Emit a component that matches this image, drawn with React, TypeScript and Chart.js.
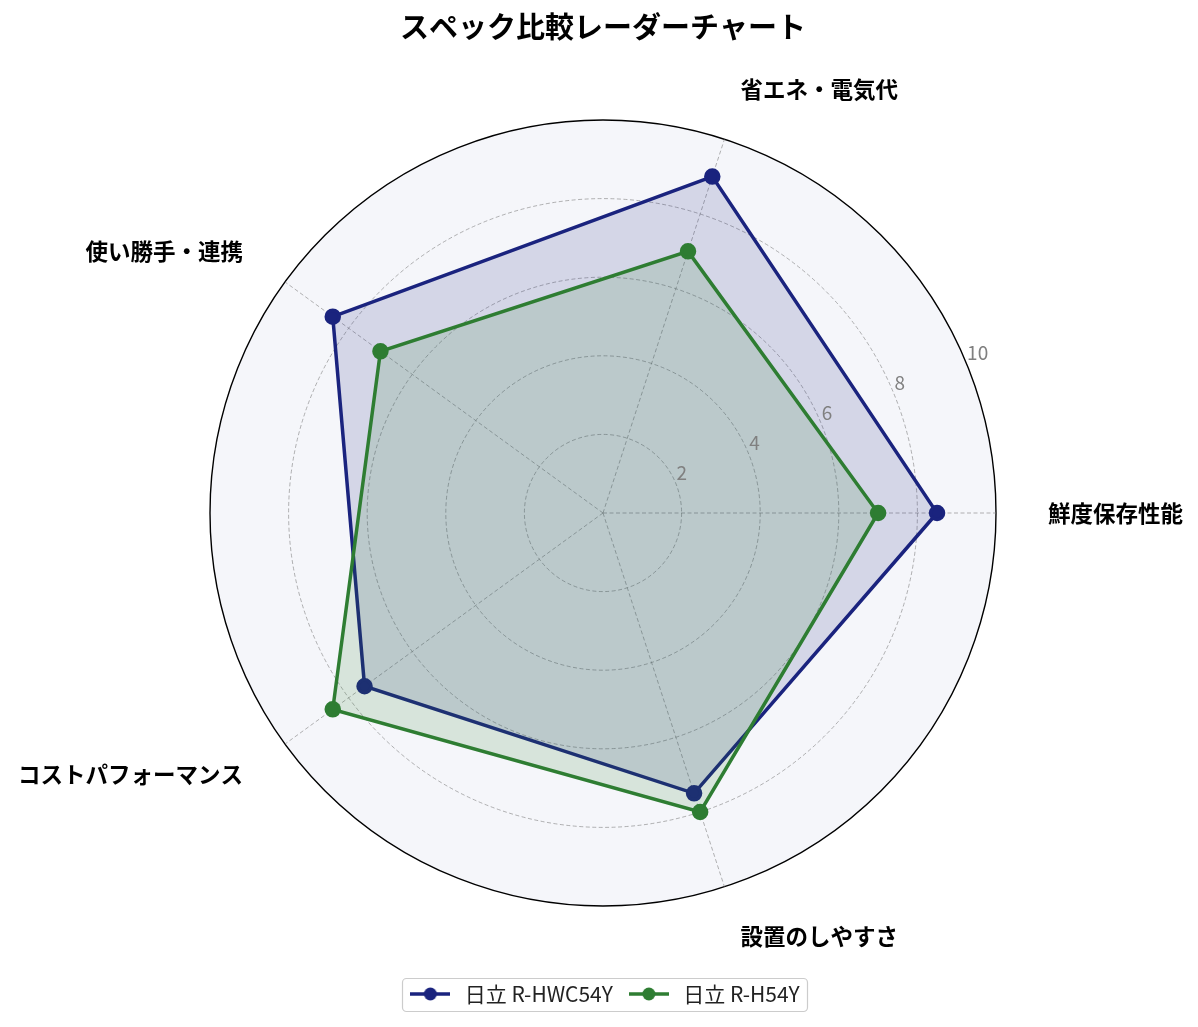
import { useEffect, useRef } from "react";
import { Chart, registerables } from "chart.js";

Chart.register(...registerables);

// Categories in clockwise drawing order, starting at the right (3 o'clock)
const categories = ["鮮度保存性能", "設置のしやすさ", "コストパフォーマンス", "使い勝手・連携", "省エネ・電気代"];
const seriesNames = ["日立 R-HWC54Y", "日立 R-H54Y"];
const hwc54yValues = [8.5, 7.5, 7.5, 8.5, 9.0];
const h54yValues = [7.0, 8.0, 8.5, 7.0, 7.0];
const tickValues = [2, 4, 6, 8, 10];
const chartTitle = "スペック比較レーダーチャート";

const NAVY = "#1a237e";
const GREEN = "#2e7d32";
const FONT = "'Noto Sans CJK JP', 'Noto Sans', sans-serif";

function makeLegendIcon(color: string) {
  const c = document.createElement("canvas");
  c.width = 40;
  c.height = 16;
  const ctx = c.getContext("2d")!;
  ctx.strokeStyle = color;
  ctx.lineWidth = 3.5;
  ctx.beginPath();
  ctx.moveTo(0, 8);
  ctx.lineTo(40, 8);
  ctx.stroke();
  ctx.fillStyle = color;
  ctx.beginPath();
  ctx.arc(20, 8, 6.5, 0, Math.PI * 2);
  ctx.fill();
  return c;
}

const radarDecor = {
  id: "radarDecor",
  beforeDraw(chart: any) {
    const s = chart.scales.r;
    const ctx = chart.ctx;
    ctx.save();
    ctx.fillStyle = "#f5f6fa";
    ctx.beginPath();
    ctx.arc(s.xCenter, s.yCenter, s.drawingArea, 0, Math.PI * 2);
    ctx.fill();
    ctx.restore();
  },
  afterDraw(chart: any) {
    const s = chart.scales.r;
    const ctx = chart.ctx;
    ctx.save();
    // radial tick labels at 22.5°
    ctx.font = `19px ${FONT}`;
    ctx.fillStyle = "#808080";
    ctx.textAlign = "left";
    ctx.textBaseline = "alphabetic";
    const a = (22.5 * Math.PI) / 180;
    tickValues.forEach((v) => {
      const d = s.getDistanceFromCenterForValue(v);
      ctx.fillText(String(v), s.xCenter + d * Math.cos(a) + 1, s.yCenter - d * Math.sin(a) - 3);
    });
    // point labels
    ctx.font = `bold 22.5px ${FONT}`;
    ctx.fillStyle = "#000";
    ctx.textBaseline = "middle";
    (chart.data.labels as string[]).forEach((lab, i) => {
      const p = s.getPointPosition(i, s.drawingArea + 52);
      const c = Math.cos(p.angle);
      ctx.textAlign = Math.abs(c) < 0.05 ? "center" : c > 0 ? "left" : "right";
      ctx.fillText(lab, p.x, p.y);
    });
    // legend frame
    const hb = chart.legend?.legendHitBoxes;
    if (hb && hb.length) {
      const first = hb[0];
      const last = hb[hb.length - 1];
      const x0 = first.left - 4;
      const x1 = last.left + last.width + 8;
      const cy = first.top + first.height / 2;
      const y0 = Math.round(cy - 16.5);
      const h = 33;
      ctx.strokeStyle = "#cccccc";
      ctx.lineWidth = 1.2;
      ctx.beginPath();
      ctx.roundRect(Math.round(x0) + 0.5, y0 + 0.5, Math.round(x1 - x0), h, 4);
      ctx.stroke();
    }
    ctx.restore();
  },
};

export default function App() {
  const ref = useRef<HTMLCanvasElement | null>(null);
  useEffect(() => {
    if (!ref.current) return;
    const icons = [makeLegendIcon(NAVY), makeLegendIcon(GREEN)];
    const chart = new Chart(ref.current, {
      type: "radar",
      data: {
        labels: categories,
        datasets: [
          {
            label: seriesNames[0],
            data: hwc54yValues,
            borderColor: NAVY,
            backgroundColor: "rgba(26,35,126,0.15)",
            pointBackgroundColor: NAVY,
            pointBorderColor: NAVY,
            borderWidth: 3.5,
            pointRadius: 6.5,
            pointHoverRadius: 6.5,
            fill: true,
            order: 1,
          },
          {
            label: seriesNames[1],
            data: h54yValues,
            borderColor: GREEN,
            backgroundColor: "rgba(46,125,50,0.15)",
            pointBackgroundColor: GREEN,
            pointBorderColor: GREEN,
            borderWidth: 3.5,
            pointRadius: 6.5,
            pointHoverRadius: 6.5,
            fill: true,
            order: 0,
          },
        ],
      },
      options: {
        animation: false,
        responsive: true,
        maintainAspectRatio: false,
        layout: { padding: { left: 202, right: 194, top: 0, bottom: 4.5 } },
        scales: {
          r: {
            min: 0,
            max: 10,
            startAngle: 90,
            ticks: { display: false, stepSize: 2 },
            pointLabels: { display: false },
            grid: {
              circular: true,
              color: (ctx: any) => (ctx.tick && ctx.tick.value === 10 ? "#000000" : "rgba(128,128,128,0.75)"),
              lineWidth: (ctx: any) => (ctx.tick && ctx.tick.value === 10 ? 1.4 : 0.8),
            },
            border: {
              dash: (ctx: any) => (ctx.tick && ctx.tick.value === 10 ? [] : [4, 2.5]),
            },
            angleLines: {
              color: "rgba(128,128,128,0.75)",
              lineWidth: 0.8,
              borderDash: [4, 2.5],
            },
          },
        },
        plugins: {
          title: {
            display: true,
            text: chartTitle,
            color: "#000",
            font: { family: FONT, size: 29, weight: "bold" },
            padding: { top: 2, bottom: 9.7 },
          },
          legend: {
            position: "bottom",
            labels: {
              color: "#222",
              font: { family: FONT, size: 21 },
              usePointStyle: true,
              pointStyleWidth: 48,
              padding: 12,
              sort: (a: any, b: any) => a.datasetIndex - b.datasetIndex,
              generateLabels: (c: any) => {
                const items = (Chart.defaults.plugins.legend.labels as any).generateLabels(c);
                return items.map((it: any) => ({ ...it, pointStyle: icons[it.datasetIndex] }));
              },
            },
          },
          tooltip: { enabled: false },
        },
      } as any,
      plugins: [radarDecor],
    });
    return () => chart.destroy();
  }, []);
  return (
    <div style={{ width: 1182, height: 1011 }}>
      <canvas ref={ref} />
    </div>
  );
}
